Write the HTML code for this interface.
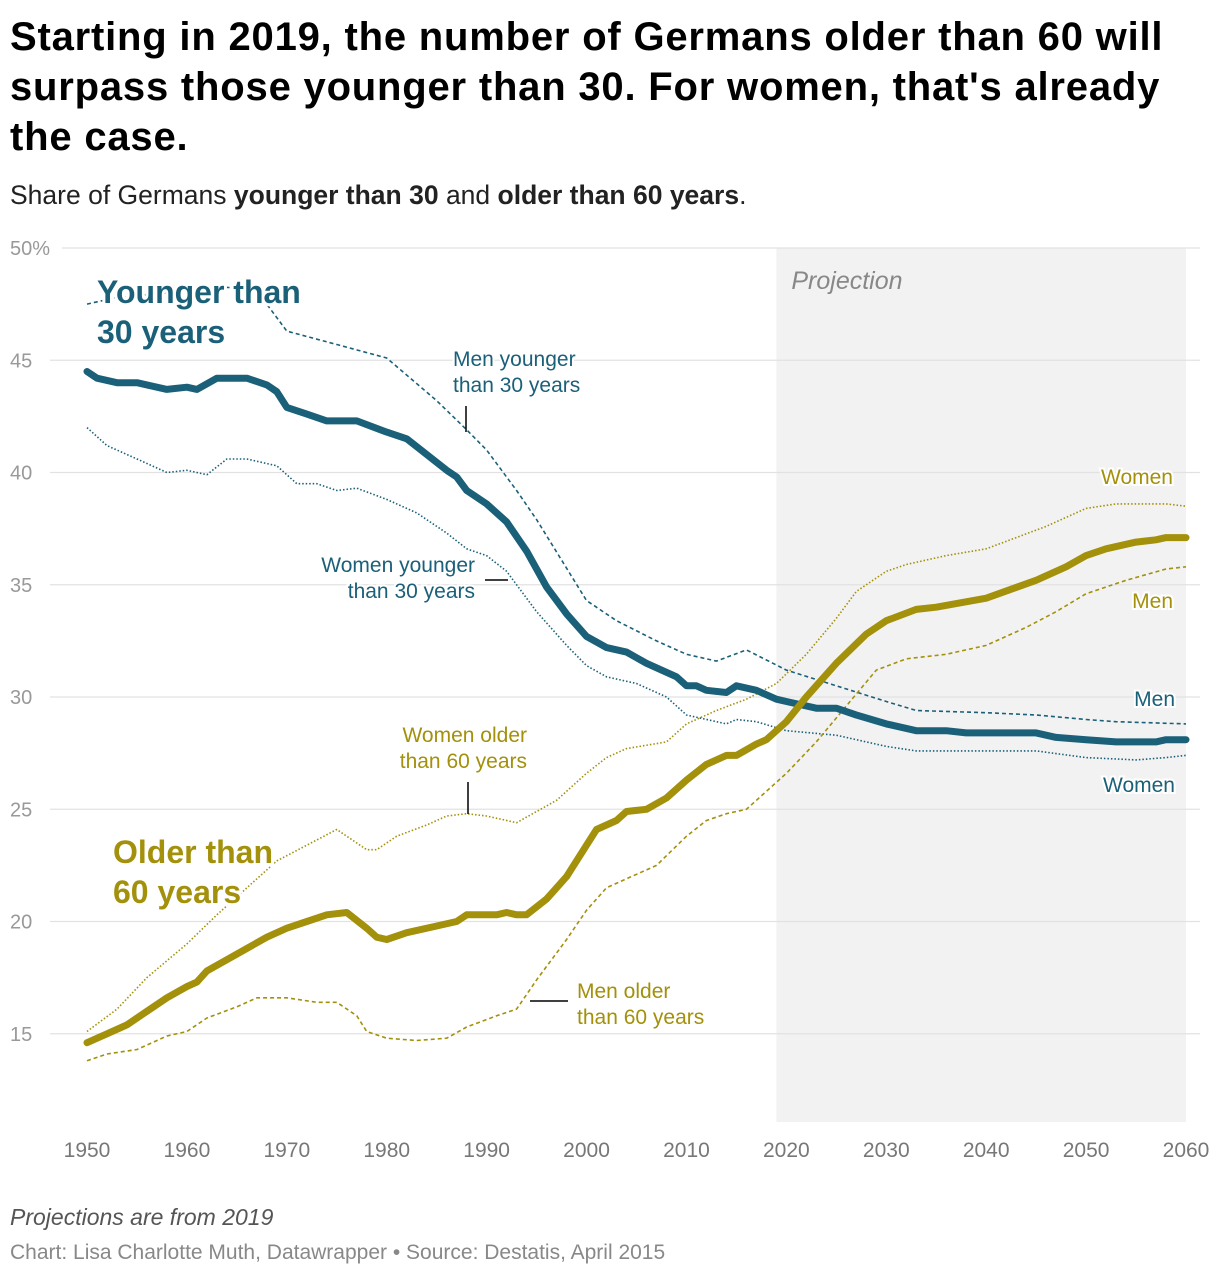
<!DOCTYPE html>
<html><head><meta charset="utf-8"><style>
body{margin:0;background:#fff;font-family:"Liberation Sans",sans-serif;}
#wrap{position:relative;width:1220px;height:1278px;overflow:hidden}
h1{position:absolute;left:10px;top:12px;margin:0;font-size:40px;line-height:50px;font-weight:bold;color:#000;width:1210px;letter-spacing:0.8px;white-space:nowrap}
.sub{position:absolute;left:10px;top:180px;font-size:26.5px;color:#222}
.note{position:absolute;left:10px;top:1204px;font-size:23px;font-style:italic;color:#555}
.src{position:absolute;left:10px;top:1241px;font-size:21px;color:#888}
svg{position:absolute;left:0;top:0}
</style></head><body><div id="wrap">
<h1>Starting in 2019, the number of Germans older than 60 will<br>surpass those younger than 30. For women, that's already<br>the case.</h1>
<div class="sub">Share of Germans <b>younger than 30</b> and <b>older than 60 years</b>.</div>
<svg id="c" width="1220" height="1278"></svg>
<div class="note">Projections are from 2019</div>
<div class="src">Chart: Lisa Charlotte Muth, Datawrapper • Source: Destatis, April 2015</div>
</div>
<script>
const yTicks=[50,45,40,35,30,25,20,15];
const xTicks=[1950,1960,1970,1980,1990,2000,2010,2020,2030,2040,2050,2060];
const youngTotal=[[1950,44.5],[1951,44.2],[1953,44.0],[1955,44.0],[1958,43.7],[1960,43.8],[1961,43.7],[1963,44.2],[1966,44.2],[1968,43.9],[1969,43.6],[1970,42.9],[1972,42.6],[1974,42.3],[1977,42.3],[1980,41.8],[1982,41.5],[1984,40.8],[1986,40.1],[1987,39.8],[1988,39.2],[1990,38.6],[1992,37.8],[1994,36.5],[1996,34.9],[1998,33.7],[2000,32.7],[2002,32.2],[2004,32.0],[2006,31.5],[2008,31.1],[2009,30.9],[2010,30.5],[2011,30.5],[2012,30.3],[2014,30.2],[2015,30.5],[2017,30.3],[2019,29.9],[2020,29.8],[2023,29.5],[2025,29.5],[2027,29.2],[2030,28.8],[2033,28.5],[2036,28.5],[2038,28.4],[2042,28.4],[2045,28.4],[2047,28.2],[2050,28.1],[2053,28.0],[2057,28.0],[2058,28.1],[2060,28.1]];
const youngMen=[[1950,47.5],[1953,47.8],[1958,48.0],[1963,48.3],[1967,48.1],[1970,46.3],[1975,45.7],[1980,45.1],[1985,43.2],[1988,41.9],[1990,41.0],[1993,39.2],[1995,37.9],[2000,34.3],[2003,33.4],[2007,32.5],[2010,31.9],[2013,31.6],[2016,32.1],[2020,31.2],[2025,30.5],[2030,29.8],[2033,29.4],[2040,29.3],[2045,29.2],[2050,29.0],[2053,28.9],[2060,28.8]];
const youngWomen=[[1950,42.0],[1952,41.2],[1955,40.6],[1958,40.0],[1960,40.1],[1962,39.9],[1964,40.6],[1966,40.6],[1969,40.3],[1971,39.5],[1973,39.5],[1975,39.2],[1977,39.3],[1980,38.8],[1983,38.2],[1986,37.3],[1988,36.6],[1990,36.3],[1992,35.6],[1995,33.8],[1998,32.3],[2000,31.4],[2002,30.9],[2005,30.6],[2008,30.0],[2010,29.2],[2014,28.8],[2015,29.0],[2017,28.9],[2020,28.5],[2025,28.3],[2030,27.8],[2033,27.6],[2040,27.6],[2045,27.6],[2050,27.3],[2055,27.2],[2058,27.3],[2060,27.4]];
const oldTotal=[[1950,14.6],[1952,15.0],[1954,15.4],[1956,16.0],[1958,16.6],[1960,17.1],[1961,17.3],[1962,17.8],[1964,18.3],[1966,18.8],[1968,19.3],[1970,19.7],[1972,20.0],[1974,20.3],[1976,20.4],[1978,19.7],[1979,19.3],[1980,19.2],[1982,19.5],[1985,19.8],[1987,20.0],[1988,20.3],[1991,20.3],[1992,20.4],[1993,20.3],[1994,20.3],[1996,21.0],[1998,22.0],[2000,23.4],[2001,24.1],[2003,24.5],[2004,24.9],[2006,25.0],[2008,25.5],[2010,26.3],[2012,27.0],[2014,27.4],[2015,27.4],[2017,27.9],[2018,28.1],[2020,28.9],[2022,30.0],[2025,31.5],[2028,32.8],[2030,33.4],[2033,33.9],[2035,34.0],[2040,34.4],[2045,35.2],[2048,35.8],[2050,36.3],[2052,36.6],[2055,36.9],[2057,37.0],[2058,37.1],[2060,37.1]];
const oldWomen=[[1950,15.1],[1953,16.1],[1956,17.5],[1960,19.0],[1963,20.3],[1966,21.5],[1969,22.7],[1972,23.4],[1975,24.1],[1978,23.2],[1979,23.2],[1981,23.8],[1984,24.3],[1986,24.7],[1988,24.8],[1990,24.7],[1993,24.4],[1995,24.9],[1997,25.4],[2000,26.6],[2002,27.3],[2004,27.7],[2008,28.0],[2010,28.8],[2013,29.4],[2016,29.9],[2019,30.6],[2022,31.9],[2025,33.5],[2027,34.7],[2030,35.6],[2032,35.9],[2036,36.3],[2040,36.6],[2043,37.1],[2046,37.6],[2050,38.4],[2053,38.6],[2058,38.6],[2060,38.5]];
const oldMen=[[1950,13.8],[1952,14.1],[1955,14.3],[1958,14.9],[1960,15.1],[1962,15.7],[1965,16.2],[1967,16.6],[1970,16.6],[1973,16.4],[1975,16.4],[1977,15.8],[1978,15.1],[1980,14.8],[1983,14.7],[1986,14.8],[1988,15.3],[1991,15.8],[1993,16.1],[1995,17.4],[1998,19.2],[2000,20.5],[2002,21.5],[2004,21.9],[2007,22.5],[2010,23.8],[2012,24.5],[2014,24.8],[2016,25.0],[2018,25.8],[2020,26.6],[2023,28.0],[2026,29.6],[2029,31.2],[2032,31.7],[2036,31.9],[2040,32.3],[2044,33.1],[2047,33.8],[2050,34.6],[2054,35.2],[2058,35.7],[2060,35.8]];
const projStart=2019;
const X=v=>87+(v-1950)*(1186-87)/110;
const Y=v=>248+(50-v)*22.45;
const svg=document.getElementById('c');const NS='http://www.w3.org/2000/svg';
function mk(t,a,p){const e=document.createElementNS(NS,t);for(const k in a)e.setAttribute(k,a[k]);(p||svg).appendChild(e);return e;}
const BLUE='#1b6079',GOLD='#a3900b';
const shade=mk('rect',{x:X(projStart),y:248,width:X(2060)-X(projStart),height:874,fill:'#f2f2f2'});


const pt=mk('text',{x:X(projStart)+15,y:289,fill:'#888','font-size':25,'font-style':'italic'});pt.textContent='Projection';


yTicks.forEach(v=>{const l=mk('line',{x1:v===50?62:50,x2:1200,y1:Y(v),y2:Y(v),stroke:'#e2e2e2','stroke-width':1.3});


const t=mk('text',{x:10,y:Y(v)+7,fill:'#999','font-size':20});t.textContent=v===50?'50%':v;

});
xTicks.forEach(v=>{const t=mk('text',{x:X(v),y:1157,fill:'#777','font-size':21,'text-anchor':'middle'});t.textContent=v;

});
function line(d,col,w,dash,name){const p=mk('path',{d:d.map((q,i)=>(i?'L':'M')+X(q[0]).toFixed(1)+','+Y(q[1]).toFixed(1)).join(''),fill:'none',stroke:col,'stroke-width':w,'stroke-dasharray':dash||'none','stroke-linejoin':'round','stroke-linecap':dash?'butt':'round'});

}
line(youngMen,BLUE,1.6,'4,3','line-men-younger');
line(youngWomen,BLUE,1.6,'1.5,2','line-women-younger');
line(oldMen,GOLD,1.6,'4,3','line-men-older');
line(oldWomen,GOLD,1.6,'1.5,2','line-women-older');
line(youngTotal,BLUE,7,null,'line-younger-total');
line(oldTotal,GOLD,7,null,'line-older-total');
function lab(txt,x,y,col,size,bold,anchor,name){const t=mk('text',{x:x,y:y,fill:col,'font-size':size,'font-weight':bold?'bold':'normal','text-anchor':anchor||'start',stroke:'#fff','stroke-width':bold?6:4,'paint-order':'stroke'});t.textContent=txt;

}
lab('Younger than',97,303,BLUE,32,true,'start','younger-label');lab('30 years',97,343,BLUE,32,true,'start','younger-label');
lab('Older than',113,863,GOLD,32,true,'start','older-label');lab('60 years',113,903,GOLD,32,true,'start','older-label');
lab('Men younger',453,366,BLUE,21,false,'start','men-younger-annotation');lab('than 30 years',453,392,BLUE,21,false,'start','men-younger-annotation');
lab('Women younger',475,572,BLUE,21,false,'end','women-younger-annotation');lab('than 30 years',475,598,BLUE,21,false,'end','women-younger-annotation');
lab('Women older',527,742,GOLD,21,false,'end','women-older-annotation');lab('than 60 years',527,768,GOLD,21,false,'end','women-older-annotation');
lab('Men older',577,998,GOLD,21,false,'start','men-older-annotation');lab('than 60 years',577,1024,GOLD,21,false,'start','men-older-annotation');
lab('Women',1173,484,GOLD,21,false,'end','women-older-end-label');lab('Men',1173,608,GOLD,21,false,'end','men-older-end-label');
lab('Men',1175,706,BLUE,21,false,'end','men-younger-end-label');lab('Women',1175,792,BLUE,21,false,'end','women-younger-end-label');
[[466,406,466,432],[485,580,508,580],[468,782,468,814],[530,1001,568,1001]].forEach(a=>{const l=mk('line',{x1:a[0],y1:a[1],x2:a[2],y2:a[3],stroke:'#000','stroke-width':1.5});

});
</script></body></html>
